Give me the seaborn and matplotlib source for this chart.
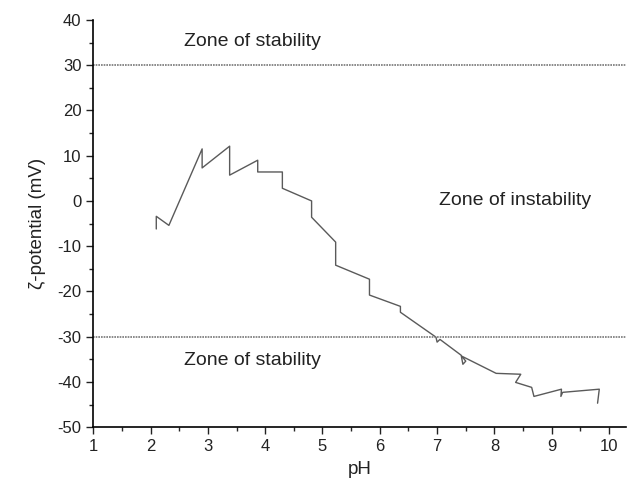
import matplotlib
matplotlib.use("Agg")
import matplotlib.pyplot as plt
import seaborn as sns
import pandas as pd
from matplotlib.ticker import MultipleLocator

ph = [2.10, 2.10, 2.32, 2.90, 2.90, 3.38, 3.38, 3.87, 3.87, 4.30, 4.30, 4.81, 4.81,
      5.23, 5.23, 5.82, 5.82, 6.36, 6.36, 6.98, 7.00, 7.05, 7.42, 7.45, 7.50, 7.43,
      8.03, 8.46, 8.37, 8.65, 8.69, 9.17, 9.16, 9.19, 9.83, 9.80]
zeta = [-6.2, -3.4, -5.4, 11.5, 7.3, 12.1, 5.7, 9.0, 6.4, 6.4, 2.8, 0.0, -3.6,
        -9.1, -14.2, -17.3, -20.8, -23.3, -24.6, -30.1, -31.2, -30.6, -34.1, -36.1, -35.4, -34.3,
        -38.1, -38.3, -40.1, -41.2, -43.2, -41.6, -43.2, -42.3, -41.6, -44.7]
limits = [30, -30]
zone_labels = ["Zone of stability", "Zone of instability", "Zone of stability"]

df = pd.DataFrame({"pH": ph, "zeta": zeta, "order": range(len(ph))})

sns.set_style("ticks")
plt.rcParams["font.family"] = ["Liberation Sans", "DejaVu Sans"]
plt.rcParams["axes.unicode_minus"] = False

fig = plt.figure(figsize=(6.3, 4.86), dpi=100)
ax = fig.add_axes([0.148, 0.121, 0.846, 0.838])

sns.lineplot(data=df, x="pH", y="zeta", sort=False, estimator=None,
             color="#5a5a5a", linewidth=1.0, ax=ax)
for lim in limits:
    ax.axhline(lim, color="#777777", linewidth=1.2, linestyle=(0, (1, 0.6)))

ax.text(2.58, 35.2, zone_labels[0], fontsize=14, va="center", ha="left", color="#222222")
ax.text(7.03, 0.0, zone_labels[1], fontsize=14, va="center", ha="left", color="#222222")
ax.text(2.58, -35.3, zone_labels[2], fontsize=14, va="center", ha="left", color="#222222")

ax.set_xlim(1, 10.3)
ax.set_ylim(-50, 40)
ax.xaxis.set_major_locator(MultipleLocator(1))
ax.xaxis.set_minor_locator(MultipleLocator(0.5))
ax.yaxis.set_major_locator(MultipleLocator(10))
ax.yaxis.set_minor_locator(MultipleLocator(5))
ax.tick_params(which="major", length=5, width=1, direction="out", labelsize=12, colors="#222222")
ax.tick_params(which="minor", length=3, width=1, direction="out")
ax.set_xlabel("pH", fontsize=13.5, color="#222222", labelpad=5)
ax.set_ylabel("ζ-potential (mV)", fontsize=13.5, color="#222222", labelpad=8)
for s in ["top", "right"]:
    ax.spines[s].set_visible(False)
for s in ["left", "bottom"]:
    ax.spines[s].set_color("black")
    ax.spines[s].set_linewidth(1.2)

fig.savefig("out.png", dpi=100)
